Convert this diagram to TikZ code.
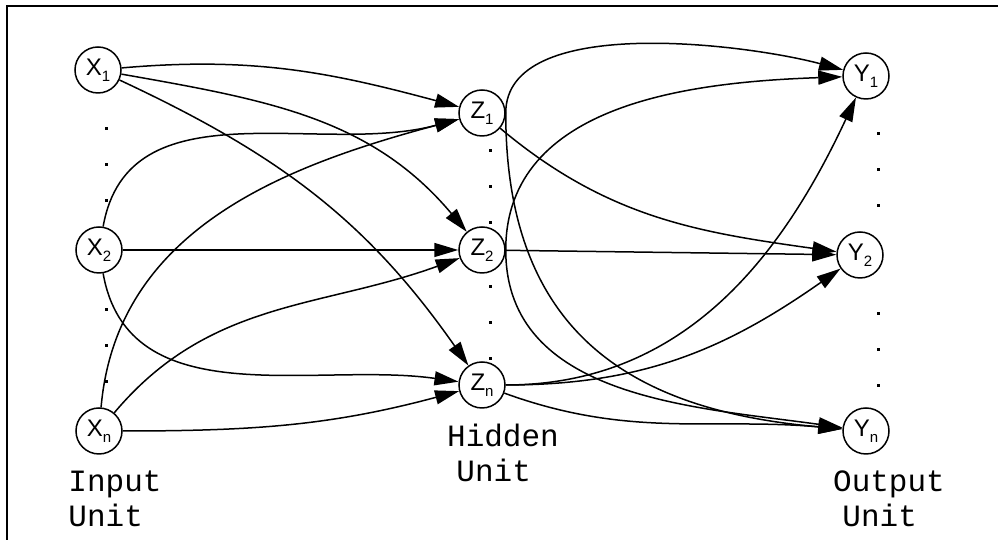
\documentclass[tikz,border=0pt]{standalone}
\usepackage{fontspec}
\setmainfont{Liberation Sans}
\newfontfamily\unitfont{Liberation Mono}
\usetikzlibrary{arrows.meta}
\newcommand{\lowsub}[1]{\raisebox{-0.45ex}{\fontsize{7.5pt}{8pt}\selectfont #1}}

\begin{document}
\begin{tikzpicture}[x=0.5pt, y=0.5pt,
    unit/.style={circle, draw, line width=0.75pt, minimum size=23pt, inner sep=0pt,
        font=\fontsize{12pt}{13pt}\selectfont},
    link/.style={line width=0.75pt, -{Triangle[length=12pt,width=7pt]}},
    caption/.style={align=center, anchor=base,
        font=\unitfont\fontsize{15.5pt}{17.5pt}\selectfont}
]
    \useasboundingbox (0,0) rectangle (998,540);

    % frame
    \draw[line width=1pt] (7,0) -- (7,534) -- (998,534);

    % input units
    \node[unit] (X1) at (98,470) {X\lowsub{1}};
    \node[unit] (X2) at (99,290) {X\lowsub{2}};
    \node[unit] (Xn) at (99,109) {X\lowsub{n}};

    % hidden units
    \node[unit] (Z1) at (482,427) {Z\lowsub{1}};
    \node[unit] (Z2) at (482,290) {Z\lowsub{2}};
    \node[unit] (Zn) at (482,155) {Z\lowsub{n}};

    % output units
    \node[unit] (Y1) at (866,464) {Y\lowsub{1}};
    \node[unit] (Y2) at (860,285) {Y\lowsub{2}};
    \node[unit] (Yn) at (866,109) {Y\lowsub{n}};

    % dots
    \foreach \x/\y in {106/411, 106/375, 106/339, 106/230, 106/194, 106/158,
                       490/389, 490/353, 490/317, 490/253, 490/217, 490/181,
                       878/406, 878/370, 878/334, 878/226, 878/190, 878/154}
    {
        \fill (\x-1.5,\y-1.5) rectangle ++(3,3);
    }

    % captions
    \node[caption] (input) at (115,13) {Input\\Unit\hphantom{t}};
    \node[caption] (hidden) at (503,58) {Hidden\\Unit\hphantom{t}};
    \node[caption] (output) at (889,13) {Output\\Unit\hphantom{t}};

    % input to hidden
    \draw[link] (X1) to[out=5, in=165] (Z1);
    \draw[link] (X1) to[out=-10, in=130] (Z2);
    \draw[link] (X1) to[out=-25, in=125] (Zn);
    \draw[link] (X2) to[out=80, in=195] (Z1);
    \draw[link] (X2) -- (Z2);
    \draw[link] (X2) to[out=-80, in=172] (Zn);
    \draw[link] (Xn) to[out=85, in=195] (Z1);
    \draw[link] (Xn) to[out=50, in=200] (Z2);
    \draw[link] (Xn) to[out=0, in=195] (Zn);

    % hidden to output
    \draw[link] (Z1.east) to[out=90, in=165, looseness=0.75] (Y1);
    \draw[link] (Z1) to[out=-40, in=172] (Y2);
    \draw[link] (Z1.east) to[out=-90, in=175, looseness=1.2] (Yn);
    \draw[link] (Z2.east) to[out=90, in=182] (Y1);
    \draw[link] (Z2) -- (Y2);
    \draw[link] (Z2.east) to[out=-90, in=172] (Yn);
    \draw[link] (Zn) to[out=0, in=-115] (Y1);
    \draw[link] (Zn) to[out=0, in=-145] (Y2);
    \draw[link] (Zn) to[out=-20, in=175] (Yn);

\end{tikzpicture}
\end{document}
